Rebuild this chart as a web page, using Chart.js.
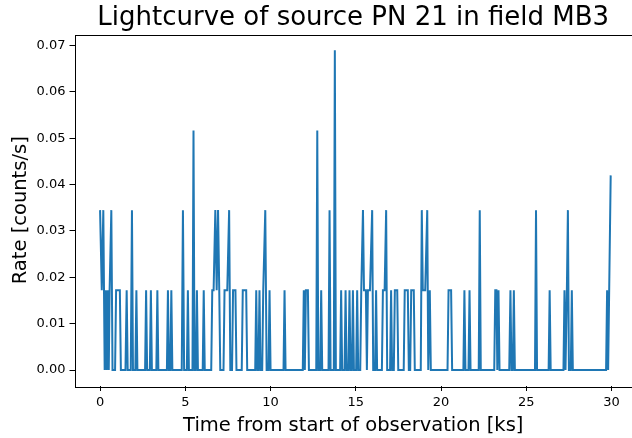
<!DOCTYPE html>
<html>
<head>
<meta charset="utf-8">
<script src="https://cdn.jsdelivr.net/npm/chart.js@4/dist/chart.umd.min.js"></script>
<style>
  html, body { margin: 0; padding: 0; background: #fff; }
  #wrap { width: 632px; height: 438px; }
</style>
</head>
<body>
<div id="wrap"><canvas id="c" width="632" height="438"></canvas></div>
<script>
// Time from start of observation [ks]
const times = [
  0.00, 0.10, 0.19, 0.27, 0.33, 0.39, 0.45, 0.51, 0.56, 0.66, 0.73, 0.88, 0.94, 1.16, 1.22,
  1.49, 1.56, 1.62, 1.80, 1.87, 1.93, 2.07, 2.13, 2.19, 2.64, 2.70, 2.76, 2.92, 2.98, 3.04,
  3.30, 3.36, 3.42, 3.92, 3.98, 4.04, 4.12, 4.18, 4.24, 4.79, 4.86, 4.93, 5.09, 5.15, 5.21,
  5.42, 5.48, 5.54, 5.62, 5.68, 5.74, 6.02, 6.08, 6.14, 6.52, 6.58, 6.66, 6.76, 6.84, 6.92,
  6.99, 7.05, 7.24, 7.30, 7.46, 7.57, 7.64, 7.74, 7.80, 7.94, 8.00, 8.31, 8.37, 8.57, 8.63,
  9.10, 9.16, 9.22, 9.29, 9.35, 9.41, 9.51, 9.57, 9.69, 9.77, 9.88, 9.94, 10.00, 10.76, 10.82,
  10.88, 11.89, 11.95, 12.01, 12.07, 12.19, 12.25, 12.68, 12.74, 12.80, 12.91, 12.97, 13.03, 13.40, 13.46,
  13.52, 13.71, 13.77, 13.83, 14.08, 14.14, 14.20, 14.34, 14.40, 14.46, 14.57, 14.63, 14.69, 14.77, 14.83,
  14.89, 15.02, 15.08, 15.14, 15.26, 15.32, 15.42, 15.48, 15.59, 15.65, 15.71, 15.83, 15.96, 16.02, 16.13,
  16.19, 16.25, 16.53, 16.59, 16.69, 16.78, 16.84, 17.01, 17.07, 17.13, 17.23, 17.29, 17.43, 17.49, 17.81,
  17.87, 18.05, 18.11, 18.19, 18.25, 18.40, 18.46, 18.81, 18.87, 18.93, 19.07, 19.19, 19.25, 19.28, 19.34,
  19.40, 20.38, 20.44, 20.59, 20.65, 21.31, 21.37, 21.43, 21.61, 21.67, 21.73, 22.21, 22.27, 22.33, 23.12,
  23.18, 23.25, 23.30, 23.37, 23.43, 24.00, 24.07, 24.13, 24.21, 24.27, 24.33, 25.51, 25.57, 25.63, 26.31,
  26.37, 26.43, 27.18, 27.24, 27.30, 27.38, 27.44, 27.50, 27.61, 27.67, 27.73, 29.68, 29.74, 29.80, 29.95
];
// Rate [counts/s]
const rates = [
  0.0345, 0.0172, 0.0345, 0, 0.0172, 0, 0.0172, 0, 0.0172, 0.0345, 0, 0, 0.0172, 0.0172, 0,
  0, 0.0172, 0, 0, 0.0345, 0, 0, 0.0172, 0, 0, 0.0172, 0, 0, 0.0172, 0,
  0, 0.0172, 0, 0, 0.0172, 0, 0, 0.0172, 0, 0, 0.0345, 0, 0, 0.0172, 0,
  0, 0.0517, 0, 0, 0.0172, 0, 0, 0.0172, 0, 0, 0.0172, 0.0172, 0.0345, 0.0172, 0.0345,
  0.0172, 0, 0, 0.0172, 0.0172, 0.0345, 0, 0, 0.0172, 0.0172, 0, 0, 0.0172, 0.0172, 0,
  0, 0.0172, 0, 0, 0.0172, 0, 0, 0.0172, 0.0345, 0, 0, 0.0172, 0, 0, 0.0172,
  0, 0, 0.0172, 0, 0.0172, 0.0172, 0, 0, 0.0517, 0, 0, 0.0172, 0, 0, 0.0345,
  0, 0, 0.069, 0, 0, 0.0172, 0, 0, 0.0172, 0, 0, 0.0172, 0, 0, 0.0172,
  0, 0, 0.0172, 0, 0, 0.0172, 0.0345, 0.0172, 0.0172, 0, 0.0172, 0.0172, 0.0345, 0, 0,
  0.0172, 0, 0, 0.0172, 0.0172, 0.0345, 0, 0, 0.0172, 0, 0, 0.0172, 0.0172, 0, 0,
  0.0172, 0.0172, 0, 0, 0.0172, 0.0172, 0, 0, 0.0345, 0.0172, 0.0172, 0.0345, 0, 0, 0.0172,
  0, 0, 0.0172, 0.0172, 0, 0, 0.0172, 0, 0, 0.0172, 0, 0, 0.0345, 0, 0,
  0.0172, 0.0172, 0, 0.0172, 0, 0, 0.0172, 0, 0, 0.0172, 0, 0, 0.0345, 0, 0,
  0.0172, 0, 0, 0.0172, 0, 0.0172, 0.0345, 0, 0, 0.0172, 0, 0, 0.0172, 0, 0.042
];
const xTicks = [0, 5, 10, 15, 20, 25, 30];
const yTicks = [0, 0.01, 0.02, 0.03, 0.04, 0.05, 0.06, 0.07];

const points = times.map((t, i) => ({ x: t, y: rates[i] }));

const FONT = "'DejaVu Sans', sans-serif";

const frame = {
  id: 'frame',
  afterDraw(chart) {
    const a = chart.chartArea, ctx = chart.ctx;
    ctx.save();
    ctx.strokeStyle = '#000';
    ctx.lineWidth = 1;
    ctx.strokeRect(Math.round(a.left) + 0.5, Math.round(a.top) + 0.5,
                   Math.round(a.right - a.left) + 2, Math.round(a.bottom - a.top));
    ctx.restore();
  }
};

new Chart(document.getElementById('c'), {
  type: 'line',
  data: {
    datasets: [{
      data: points,
      borderColor: '#1f77b4',
      borderWidth: 2,
      pointRadius: 0,
      tension: 0,
      fill: false
    }]
  },
  plugins: [frame],
  options: {
    responsive: false,
    animation: false,
    layout: { padding: 0 },
    plugins: {
      legend: { display: false },
      tooltip: { enabled: false },
      title: {
        display: true,
        fullSize: false,
        text: 'Lightcurve of source PN 21 in field MB3',
        color: '#000',
        font: { family: FONT, size: 26, weight: 'normal' },
        padding: { top: 3, bottom: 0.3 }
      }
    },
    scales: {
      x: {
        type: 'linear',
        min: -1.5,
        max: 31.2,
        afterBuildTicks(s) { s.ticks = xTicks.map(v => ({ value: v })); },
        afterFit(s) { s.height = 52; },
        grid: { drawOnChartArea: false, drawTicks: true, tickLength: 5, color: '#000' },
        border: { display: false },
        ticks: {
          padding: 4, color: '#000', maxRotation: 0, autoSkip: false,
          font: { family: FONT, size: 13 },
          callback: v => String(v)
        },
        title: {
          display: true,
          text: 'Time from start of observation [ks]',
          color: '#000',
          font: { family: FONT, size: 19.5 },
          padding: { top: 7, bottom: 0 }
        }
      },
      y: {
        type: 'linear',
        min: -0.00345,
        max: 0.0724,
        afterBuildTicks(s) { s.ticks = yTicks.map(v => ({ value: v })); },
        afterFit(s) { s.width = 74.5; },
        grid: { drawOnChartArea: false, drawTicks: true, tickLength: 5, color: '#000' },
        border: { display: false },
        ticks: {
          padding: 4, color: '#000', autoSkip: false,
          font: { family: FONT, size: 13 },
          callback: v => Number(v).toFixed(2)
        },
        title: {
          display: true,
          text: 'Rate [counts/s]',
          color: '#000',
          font: { family: FONT, size: 19.5 },
          padding: { top: 9, bottom: 0 }
        }
      }
    }
  }
});
</script>
</body>
</html>
